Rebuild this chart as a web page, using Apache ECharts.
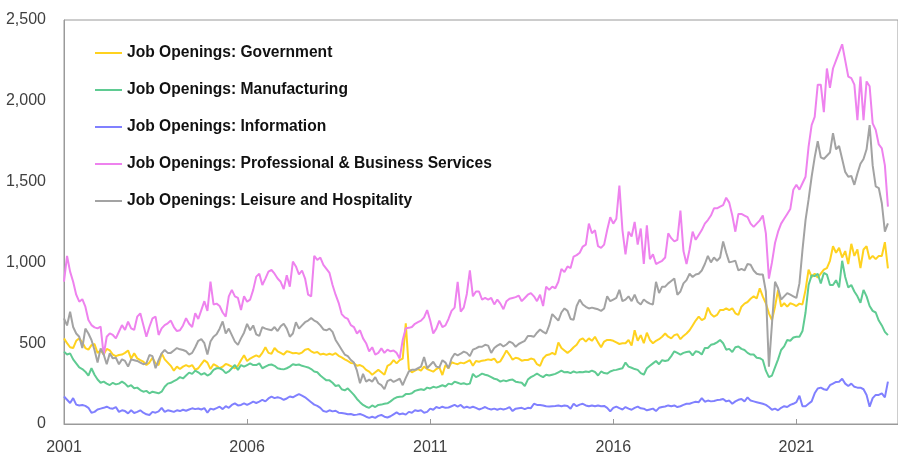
<!DOCTYPE html>
<html>
<head>
<meta charset="utf-8">
<script src="https://cdn.jsdelivr.net/npm/echarts@6/dist/echarts.min.js"></script>
<style>html,body{margin:0;padding:0;background:#fff;}#c{width:898px;height:457px;}</style>
</head>
<body>
<div id="c"></div>
<script>
// Monthly data, Jan 2001 (index 0) to Jul 2023 (index 270), thousands
const startYear = 2001;
const yearLabels = [2001, 2006, 2011, 2016, 2021];
const yTicks = [0, 500, 1000, 1500, 2000, 2500];
const seriesNames = [
  'Job Openings: Government',
  'Job Openings: Manufacturing',
  'Job Openings: Information',
  'Job Openings: Professional & Business Services',
  'Job Openings: Leisure and Hospitality'
];

const government = [
530,500,475,470,515,530,505,470,460,488,495,440,455,430,465,455,430,420,427,430,440,455,405,437,406,395,386,365,380,410,375,365,437,400,380,
360,330,355,340,355,365,355,365,335,345,370,395,380,340,370,360,345,355,372,365,355,345,360,395,425,390,405,415,425,415,440,475,440,435,470,
450,440,430,450,445,438,440,435,442,460,465,450,440,445,430,435,428,435,428,438,422,412,400,390,378,376,360,365,355,335,324,305,320,335,
320,305,360,370,395,375,395,405,623,340,320,330,340,330,355,340,332,324,340,350,303,365,345,382,375,370,380,375,385,395,360,390,385,392,395,
400,396,405,380,388,420,455,428,398,410,405,392,396,396,405,400,370,360,405,425,430,440,430,505,470,455,440,455,475,490,520,530,510,530,
515,540,505,475,510,520,520,515,505,495,500,500,520,485,580,515,550,500,565,520,500,515,525,540,560,540,530,550,555,525,545,560,580,610,
640,664,643,654,720,680,664,675,705,705,716,705,716,685,675,726,745,755,775,790,777,840,788,747,685,643,726,829,726,747,726,747,740,730,
745,740,830,955,910,930,905,930,955,965,1010,1100,1060,1090,1030,1070,990,1115,1040,1080,965,1080,1100,1020,1040,1020,1040,1040,1125,963
];

const manufacturing = [
448,430,437,400,375,350,340,324,300,345,305,275,255,262,250,241,255,245,250,262,250,231,240,221,225,210,200,205,190,200,195,190,200,231,250,
255,265,275,290,282,300,318,310,330,320,305,315,300,310,335,345,345,335,315,325,345,365,335,365,355,365,375,365,365,375,345,355,365,368,360,
345,340,338,345,355,370,365,368,360,355,350,340,325,320,300,285,270,270,255,235,240,215,208,220,200,180,155,135,118,107,100,115,105,118,
120,125,128,140,155,165,168,170,185,185,190,205,210,215,210,225,220,230,225,232,240,232,250,245,262,255,248,252,245,250,310,290,300,312,305,
300,290,280,275,262,270,265,272,275,262,258,255,235,275,290,300,312,300,290,305,300,305,310,320,330,320,322,315,325,318,322,320,325,322,
330,322,300,325,315,312,325,332,335,340,345,380,355,348,340,335,315,305,345,360,375,390,370,395,390,395,420,450,440,430,440,445,448,425,
450,445,430,470,470,490,495,505,520,500,460,465,445,475,480,465,458,440,430,430,410,407,396,330,290,300,350,400,458,480,520,515,535,540,
540,575,690,860,920,915,930,870,935,925,860,860,890,845,1010,910,845,860,820,790,750,830,790,730,700,690,640,610,570,550
];

const information = [
170,150,130,160,120,115,118,112,100,70,75,90,95,100,107,98,95,105,75,85,80,66,85,68,75,85,70,60,56,75,70,78,100,75,85,
80,75,85,80,88,82,90,97,92,96,90,98,70,95,90,98,107,92,110,100,118,128,115,118,128,118,128,138,130,138,150,140,158,169,160,
165,160,150,158,170,165,175,185,175,165,150,135,120,112,100,80,75,85,78,82,70,68,65,60,62,56,58,62,55,45,38,45,38,50,
56,45,40,48,60,72,60,65,58,75,70,85,80,85,70,75,95,88,105,98,107,100,102,110,118,108,118,100,107,100,107,100,90,97,105,
95,90,95,88,95,90,95,105,80,95,98,100,92,100,98,125,118,118,115,110,108,110,112,115,110,115,112,95,125,110,120,125,115,110,
115,110,115,110,112,100,78,100,108,98,90,105,95,88,100,108,97,95,85,90,95,80,100,105,108,115,110,115,105,110,118,125,125,132,
138,135,160,138,145,140,142,148,150,155,140,145,125,140,150,155,140,165,145,140,135,130,125,118,105,88,95,85,100,110,105,118,125,135,
175,110,110,125,140,190,220,225,215,210,240,250,260,262,280,250,235,250,230,225,225,215,180,107,160,180,180,190,165,262
];

const professional = [
881,1040,943,880,800,757,772,726,643,612,598,592,602,427,540,561,551,530,571,612,582,633,592,582,664,685,612,540,602,654,664,551,592,612,623,
640,600,575,580,610,655,620,600,685,650,705,760,700,881,740,745,730,690,664,790,830,790,780,705,790,757,770,830,912,930,860,900,943,953,930,
900,880,835,920,850,1005,975,925,950,900,800,790,1040,1015,1030,985,960,935,860,800,750,680,660,650,612,600,560,580,530,500,450,475,430,440,
468,440,460,450,455,440,406,520,592,595,600,620,630,640,660,705,640,560,590,640,600,610,650,700,720,880,695,720,805,950,790,820,820,770,780,
770,780,740,770,745,710,760,775,780,785,795,760,780,800,810,790,760,800,730,850,830,850,840,880,960,940,975,965,1036,1045,1060,1098,1110,1240,
1180,1200,1100,1090,1110,1200,1280,1240,1270,1475,1200,1050,1190,1160,1250,1110,1210,990,1230,1020,1050,990,1000,1010,1030,1180,1150,1130,1140,1320,1070,990,1080,1190,
1140,1170,1200,1240,1262,1290,1335,1335,1345,1355,1400,1370,1290,1190,1300,1300,1290,1280,1240,1220,1240,1260,1290,1180,900,1000,1120,1190,1240,1270,1300,1330,1450,1480,
1450,1490,1530,1716,1850,1900,2100,2100,1930,2200,2080,2200,2250,2300,2350,2250,2150,2140,2100,1880,2150,1880,2120,2090,1860,1820,1730,1706,1600,1345
];

const leisure = [
654,610,695,600,560,540,470,590,560,520,458,380,468,430,370,437,406,410,370,400,390,355,400,395,390,380,370,375,427,420,345,395,437,458,440,
440,455,470,462,458,450,430,440,475,515,525,500,430,510,540,555,590,635,560,590,550,510,490,530,565,620,580,610,555,545,600,590,585,580,600,
575,605,620,590,540,560,630,590,610,630,640,655,640,630,610,585,580,590,570,520,490,460,430,420,396,380,330,252,310,262,275,262,290,252,
240,215,265,275,260,270,280,240,285,325,335,335,345,355,415,345,365,385,355,350,395,380,345,405,435,425,435,448,440,420,460,468,478,478,490,
485,440,470,485,495,480,492,510,500,478,495,505,515,545,545,540,565,585,570,560,610,680,660,640,690,715,700,650,645,730,770,740,725,715,
720,715,710,700,715,790,760,770,780,830,760,770,790,760,800,755,740,770,755,745,740,880,810,850,850,870,885,900,800,820,870,890,930,910,
925,930,950,990,1040,1000,1030,1010,1030,1130,1060,1000,1005,1010,950,960,950,990,985,950,930,925,925,820,355,620,880,840,770,790,810,800,790,780,
870,1077,1262,1390,1530,1650,1750,1650,1640,1660,1680,1800,1700,1720,1640,1560,1530,1535,1480,1550,1610,1640,1700,1850,1600,1470,1460,1366,1190,1242
];

const seriesValues = [government, manufacturing, information, professional, leisure];
const colors = ['#FFD21F', '#5FCB92', '#8080FF', '#EE82EE', '#A3A3A3'];

const chart = echarts.init(document.getElementById('c'), null, {renderer: 'canvas'});
const labelFont = "'Liberation Sans', Arial, sans-serif";

chart.setOption({
  animation: false,
  backgroundColor: '#fff',
  grid: {left: 64, top: 20, right: -1, bottom: 33, show: true, borderColor: '#9a9a9a', borderWidth: 1},
  legend: {
    orient: 'vertical',
    left: 95,
    top: 45,
    padding: 0,
    itemWidth: 27,
    itemHeight: 2,
    itemGap: 21,
    icon: 'rect',
    data: seriesNames,
    textStyle: {fontFamily: "'Liberation Sans', Arial, sans-serif", fontWeight: 'bold', fontSize: 15.6, color: '#111', lineHeight: 16}
  },
  xAxis: {
    type: 'value',
    min: 0,
    max: 273.3,
    interval: 60,
    axisLine: {show: true, lineStyle: {color: '#9a9a9a', width: 1}},
    axisTick: {show: true, inside: true, length: 5, lineStyle: {color: '#9a9a9a'}},
    splitLine: {show: false},
    axisLabel: {
      showMaxLabel: false,
      margin: 16,
      color: '#404040',
      fontSize: 16,
      fontFamily: labelFont,
      formatter: function (v) {
        const y = startYear + v / 12;
        return yearLabels.indexOf(y) >= 0 ? String(y) : '';
      }
    }
  },
  yAxis: {
    type: 'value',
    min: yTicks[0],
    max: yTicks[yTicks.length - 1],
    interval: 500,
    axisLine: {show: true, lineStyle: {color: '#9a9a9a', width: 1}},
    axisTick: {show: false},
    splitLine: {show: false},
    axisLabel: {
      margin: 18,
      color: '#404040',
      fontSize: 16,
      fontFamily: labelFont,
      formatter: function (v) { return v.toLocaleString('en-US'); }
    }
  },
  series: seriesNames.map(function (name, k) {
    return {
      name: name,
      type: 'line',
      symbol: 'none',
      color: colors[k],
      lineStyle: {width: 2, color: colors[k]},
      data: seriesValues[k].map(function (v, i) { return [i, v]; })
    };
  })
});
</script>
</body>
</html>
